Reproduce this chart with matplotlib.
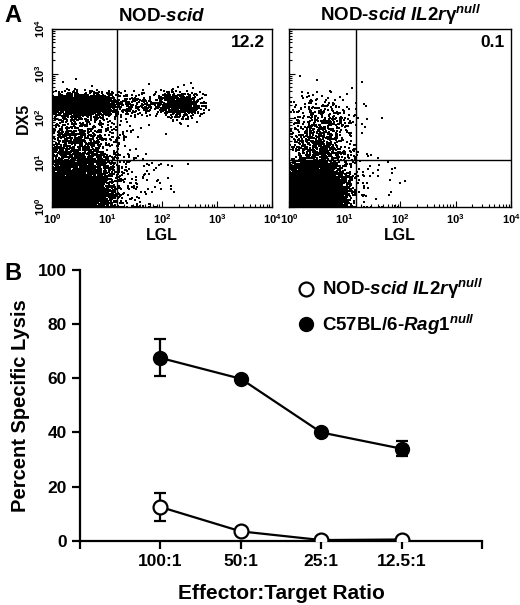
import numpy as np
import matplotlib
matplotlib.use("Agg")
import matplotlib.pyplot as plt
from matplotlib.lines import Line2D
from matplotlib.ticker import LogLocator, LogFormatterMathtext, NullFormatter

plt.rcParams['font.family'] = ['Liberation Sans', 'DejaVu Sans']
plt.rcParams['font.weight'] = 'bold'
plt.rcParams['mathtext.fontset'] = 'custom'
plt.rcParams['mathtext.rm'] = 'Liberation Sans:bold'
plt.rcParams['mathtext.it'] = 'Liberation Sans:italic:bold'
plt.rcParams['mathtext.bf'] = 'Liberation Sans:bold'

# panel A: event clouds (log10 decades)
# columns: centre LGL, centre DX5, spread LGL, spread DX5, events
scid_clusters = np.array([
    [0.40, 0.30, 0.35, 0.30, 4000],
    [0.50, 0.85, 0.35, 0.35, 1200],
    [0.50, 1.55, 0.38, 0.38, 700],
    [0.45, 2.30, 0.38, 0.12, 2200],
    [1.45, 2.30, 0.30, 0.16, 200],
    [2.30, 2.30, 0.20, 0.13, 750],
    [1.60, 0.50, 0.35, 0.40, 90],
])
il2_clusters = np.array([
    [0.40, 0.30, 0.30, 0.28, 6500],
    [0.50, 1.10, 0.32, 0.50, 1100],
    [0.60, 1.90, 0.30, 0.35, 250],
    [1.50, 0.60, 0.40, 0.50, 40],
])
gate_lgl = [15, 16]
gate_dx5 = [11.5, 11.5]
quad_pct = ["12.2", "0.1"]
panel_titles = [r"NOD-$\mathit{scid}$",
                r"NOD-$\mathit{scid}$ $\mathit{IL2r}\mathrm{γ}^{\mathit{null}}$"]

# panel B: cytotoxicity assay
ratios = ["100:1", "50:1", "25:1", "12.5:1"]
il2_lysis = [12.5, 3.5, 0.3, 0.5]
il2_err = [5.2, 0, 0, 0]
rag_lysis = [67.5, 59.8, 40.0, 34.0]
rag_err = [6.8, 0, 0, 2.8]
series_names = [r"NOD-$\mathit{scid}$ $\mathit{IL2r}\mathrm{γ}^{\mathit{null}}$",
                r"C57BL/6-$\mathit{Rag1}^{\mathit{null}}$"]


def events(clusters, seed):
    rng = np.random.default_rng(seed)
    xs, ys = [], []
    for cx, cy, sx, sy, n in clusters:
        xs.append(rng.normal(cx, sx, int(n)))
        ys.append(rng.normal(cy, sy, int(n)))
    x = np.clip(np.concatenate(xs), 0, 4)
    y = np.clip(np.concatenate(ys), 0, 4)
    return 10 ** x, 10 ** y


fig = plt.figure(figsize=(5.2, 6.05), dpi=100)

axA1 = fig.add_axes([0.100, 0.658, 0.423, 0.294])
axA2 = fig.add_axes([0.556, 0.658, 0.427, 0.294])

for i, (ax, cl) in enumerate(zip([axA1, axA2], [scid_clusters, il2_clusters])):
    x, y = events(cl, i + 3)
    ax.scatter(x, y, s=1.1, marker='s', color='k', linewidths=0)
    ax.set_xscale('log')
    ax.set_yscale('log')
    ax.set_xlim(1, 1e4)
    ax.set_ylim(1, 1e4)
    ax.axvline(gate_lgl[i], color='k', lw=1)
    ax.axhline(gate_dx5[i], color='k', lw=1)
    ax.xaxis.set_major_locator(LogLocator(base=10))
    ax.yaxis.set_major_locator(LogLocator(base=10))
    ax.xaxis.set_minor_locator(LogLocator(base=10, subs=np.arange(2, 10)))
    ax.yaxis.set_minor_locator(LogLocator(base=10, subs=np.arange(2, 10)))
    ax.xaxis.set_minor_formatter(NullFormatter())
    ax.yaxis.set_minor_formatter(NullFormatter())
    ax.xaxis.set_major_formatter(LogFormatterMathtext())
    ax.tick_params(which='both', direction='in', labelsize=8, width=0.8)
    ax.tick_params(which='major', length=4)
    ax.tick_params(which='minor', length=2)
    for sp in ax.spines.values():
        sp.set_linewidth(1)
    ax.set_xlabel("LGL", fontsize=11.5, fontweight='bold', labelpad=2)
    ax.set_title(panel_titles[i], fontsize=13.5, fontweight='bold', pad=6)
    ax.text(0.97, 0.925, quad_pct[i], transform=ax.transAxes, ha='right',
            va='center', fontsize=12.5, fontweight='bold')

axA1.yaxis.set_major_formatter(LogFormatterMathtext())
for lab in axA1.get_yticklabels():
    lab.set_rotation(90)
    lab.set_va('center')
axA1.set_ylabel("DX5", fontsize=11.5, fontweight='bold', labelpad=2)
axA2.yaxis.set_major_formatter(NullFormatter())

fig.text(0.008, 0.975, "A", fontsize=17, fontweight='bold', va='center')
fig.text(0.008, 0.548, "B", fontsize=17, fontweight='bold', va='center')

# panel B
axB = fig.add_axes([0.154, 0.106, 0.773, 0.448])
pos = np.arange(1, len(ratios) + 1)
axB.errorbar(pos, rag_lysis, yerr=rag_err, color='k', lw=1.6, marker='o',
             ms=10, mfc='k', mec='k', capsize=4, capthick=1.6, elinewidth=1.6,
             zorder=3)
axB.errorbar(pos, il2_lysis, yerr=il2_err, color='k', lw=1.6, marker='o',
             ms=10, mfc='white', mec='k', mew=1.6, capsize=4, capthick=1.6,
             elinewidth=1.6, zorder=3)
axB.set_xlim(0, len(ratios) + 1)
axB.set_ylim(0, 100)
axB.set_yticks([0, 20, 40, 60, 80, 100])
axB.set_xticks(np.arange(0, len(ratios) + 2))
axB.set_xticklabels([""] + ratios + [""])
axB.spines['top'].set_visible(False)
axB.spines['right'].set_visible(False)
axB.spines['left'].set_linewidth(1.6)
axB.spines['bottom'].set_linewidth(1.6)
axB.tick_params(width=1.6, length=6, labelsize=12.5)
for lab in axB.get_xticklabels() + axB.get_yticklabels():
    lab.set_fontweight('bold')
axB.set_xlabel("Effector:Target Ratio", fontsize=15, fontweight='bold', labelpad=11)
axB.set_ylabel("Percent Specific Lysis", fontsize=14.5, fontweight='bold', labelpad=6)
handles = [
    Line2D([], [], ls='none', marker='o', ms=10, mfc='white', mec='k', mew=1.6),
    Line2D([], [], ls='none', marker='o', ms=10, mfc='k', mec='k'),
]
axB.legend(handles, series_names, loc='upper right', bbox_to_anchor=(1.045, 1.035),
           frameon=False, handlelength=0.8, handletextpad=0.45,
           labelspacing=0.6, prop={'weight': 'bold', 'size': 13.5})

fig.savefig("out.png", dpi=100)
